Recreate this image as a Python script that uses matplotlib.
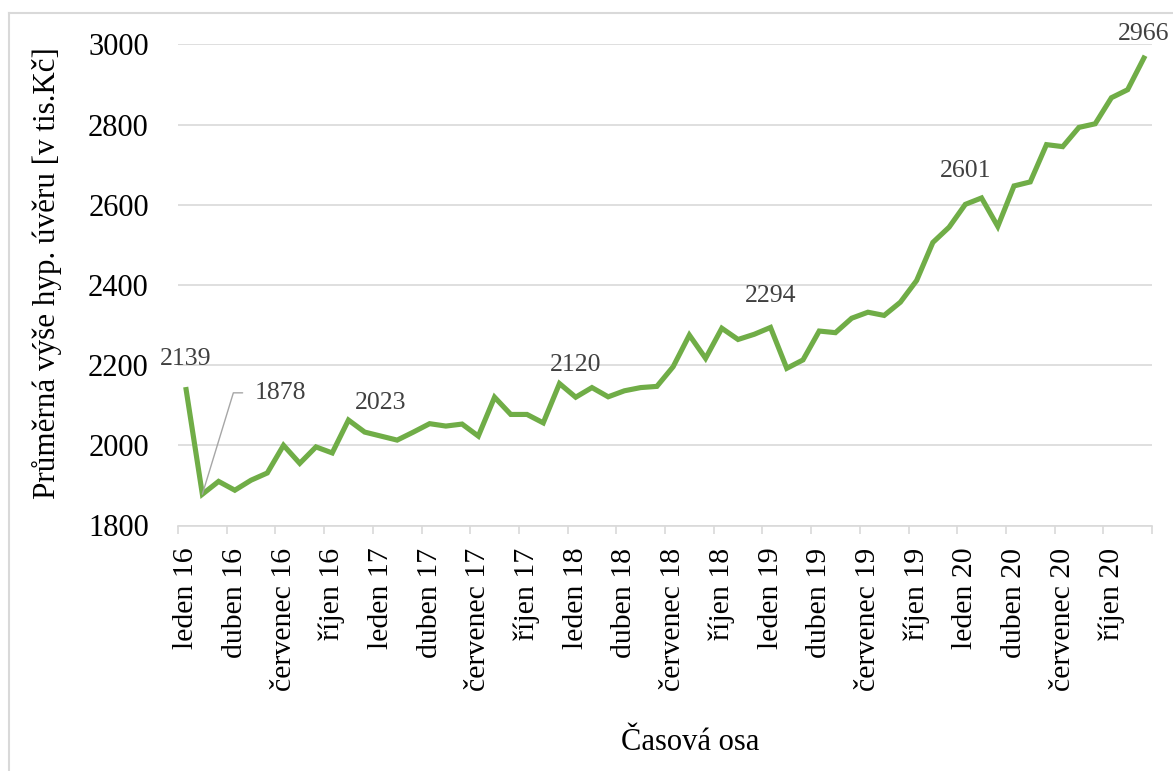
import matplotlib
matplotlib.use("Agg")
import matplotlib.pyplot as plt
from matplotlib.lines import Line2D
import numpy as np

# Průměrná výše hypotečního úvěru, měsíčně 2016-2020 (tis. Kč)
months = ["leden", "únor", "březen", "duben", "květen", "červen",
          "červenec", "srpen", "září", "říjen", "listopad", "prosinec"]
years = ["16", "17", "18", "19", "20"]
values = [2139, 1878, 1910, 1888, 1913, 1931, 2000, 1955, 1996, 1981, 2063, 2033,
          2023, 2013, 2033, 2054, 2048, 2053, 2023, 2120, 2077, 2077, 2056, 2154,
          2120, 2144, 2121, 2136, 2144, 2147, 2196, 2275, 2217, 2292, 2264, 2277,
          2294, 2192, 2213, 2285, 2281, 2317, 2332, 2324, 2357, 2411, 2506, 2544,
          2601, 2617, 2546, 2647, 2657, 2750, 2745, 2793, 2802, 2867, 2887, 2966]
labels = [f"{m} {y}" for y in years for m in months]
# popisky hodnot: index -> posun textu v bodech (dx, dy)
value_labels = {0: (0, 22), 12: (0, 24), 24: (0, 23), 36: (0, 23), 48: (0, 24), 59: (0, 17)}
callout_idx = 1

FONT = "Liberation Serif"
GRID = "#d9d9d9"
GREEN = "#70ad47"
LABEL = "#404040"

plt.rcParams["font.family"] = [FONT, "DejaVu Serif"]

W, H = 1173, 771
fig = plt.figure(figsize=(W / 100, H / 100), dpi=100)
ax = fig.add_axes([178 / W, 1 - 525.5 / H, (1152 - 178) / W, (525.5 - 44.4) / H])

x = np.arange(len(values))
ax.plot(x, values, color=GREEN, lw=3.7, solid_joinstyle="miter", zorder=3)

ax.set_xlim(-0.5, len(values) - 0.5)
ax.set_ylim(1800, 3000)
ax.set_yticks(np.arange(1800, 3001, 200))
ax.yaxis.grid(True, color=GRID, lw=1.2)
ax.set_axisbelow(True)
for s in ["left", "right", "top"]:
    ax.spines[s].set_visible(False)
ax.spines["bottom"].set_color(GRID)
ax.spines["bottom"].set_linewidth(1.2)

ax.set_xticks(x[::3])
ax.set_xticklabels(labels[::3], rotation=90, ha="center", va="top")
ax.set_xticks(np.arange(-0.5, len(values), 3), minor=True)
ax.tick_params(axis="x", which="major", length=0, pad=16, labelsize=21.5)
ax.tick_params(axis="x", which="minor", length=6, width=1.2, color=GRID)
ax.tick_params(axis="y", length=0, pad=21, labelsize=22)

for i, (dx, dy) in value_labels.items():
    ax.annotate(str(values[i]), (i, values[i]), xytext=(dx, dy), textcoords="offset points",
                ha="center", va="center", fontsize=18.5, color=LABEL)

ax.annotate(str(values[callout_idx]), (callout_idx, values[callout_idx]),
            xytext=(38, 73), textcoords="offset points", ha="left", va="center",
            fontsize=18.5, color=LABEL,
            arrowprops=dict(arrowstyle="-", color="#a6a6a6", lw=1,
                            relpos=(0, 0.5), shrinkA=7, shrinkB=0,
                            connectionstyle="angle,angleA=0,angleB=73,rad=0"))

fig.text(47 / W, 1 - 273 / H, "Průměrná výše hyp. úvěru [v tis.Kč]", rotation=90,
         ha="center", va="center", fontsize=22.4)
fig.text(690 / W, 1 - 742 / H, "Časová osa", ha="center", va="center", fontsize=22)

# rámeček oblasti grafu
fig.add_artist(Line2D([9 / W, 1], [1 - 13 / H, 1 - 13 / H], color=GRID, lw=1.5))
fig.add_artist(Line2D([9 / W, 9 / W], [0, 1 - 13 / H], color=GRID, lw=1.5))

fig.savefig("out.png", dpi=100)
